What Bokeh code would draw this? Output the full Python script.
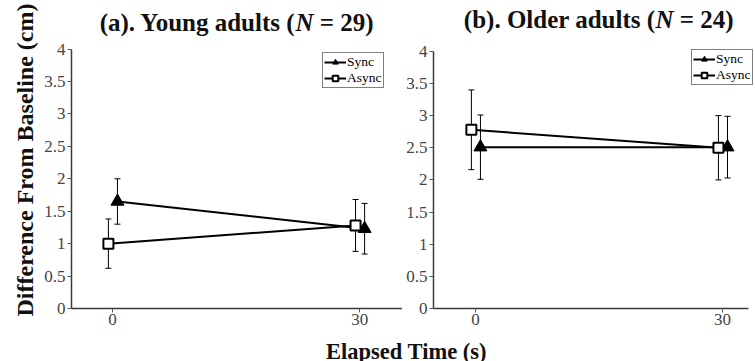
from bokeh.plotting import figure
from bokeh.models import (ColumnDataSource, Range1d, FixedTicker, Whisker, TeeHead,
                          Legend, LegendItem, Label)
from bokeh.layouts import row, column
from bokeh.transform import dodge
from bokeh.embed import file_html
from bokeh.resources import INLINE

# ---------------- data ----------------
time = [0, 30]
x_ticks = [0, 30]
y_ticks = [0, 0.5, 1, 1.5, 2, 2.5, 3, 3.5, 4]
y_tick_labels = ["0", "0.5", "1", "1.5", "2", "2.5", "3", "3.5", "4"]

young_sync = [1.65, 1.23]
young_sync_err = [0.35, 0.39]
young_async = [1.00, 1.28]
young_async_err = [0.38, 0.40]

older_sync = [2.51, 2.51]
older_sync_err = [0.50, 0.48]
older_async = [2.78, 2.50]
older_async_err = [0.62, 0.50]

series_names = ["Sync", "Async"]
titles = [("(a). Young adults (", "N", "\u00a0= 29)"), ("(b). Older adults (", "N", "\u00a0= 24)")]
y_label = "Difference From Baseline (cm)"
x_label = "Elapsed Time (s)"

SERIF = "Liberation Serif"
SYNC_DODGE = 0.6
ASYNC_DODGE = -0.5


def make_src(means, errs):
    return ColumnDataSource(dict(
        time=time, mean=means,
        upper=[m + e for m, e in zip(means, errs)],
        lower=[m - e for m, e in zip(means, errs)],
    ))


def panel(width, height, x_start, x_end, x_bounds, y_end, b_left, b_right, b_bottom,
          sync, sync_err, asyn, asyn_err, title_parts, title_x, title_y, legend_xy,
          side_title=None):
    if side_title is not None:
        kw = dict(title=side_title, title_location="left")
    else:
        kw = dict(title=None)
    p = figure(width=width, height=height, output_backend="svg", toolbar_location=None,
               x_range=Range1d(x_start, x_end), y_range=Range1d(0, y_end),
               min_border_left=b_left, min_border_right=b_right,
               min_border_top=0, min_border_bottom=b_bottom, **kw)
    if side_title is not None:
        p.title.text_font = SERIF
        p.title.text_font_size = "24px"
        p.title.text_font_style = "bold"
        p.title.text_color = "#111111"
        p.title.align = "left"
        p.title.offset = -8
        p.title.standoff = 7
    p.outline_line_color = None
    p.grid.visible = False
    p.background_fill_color = "white"
    p.border_fill_color = "white"

    for ax in (p.xaxis[0], p.yaxis[0]):
        ax.axis_line_color = "#3a3a3a"
        ax.axis_line_width = 1.5
        ax.major_tick_line_color = "#555555"
        ax.major_tick_in = 0
        ax.major_tick_out = 4
        ax.minor_tick_line_color = None
        ax.major_label_text_font = SERIF
        ax.major_label_text_font_size = "17px"
        ax.major_label_text_color = "#444444"
    p.xaxis.ticker = FixedTicker(ticks=x_ticks)
    p.xaxis.bounds = x_bounds
    p.xaxis.major_label_standoff = 1
    p.yaxis.ticker = FixedTicker(ticks=y_ticks)
    p.yaxis.bounds = (y_ticks[0], y_ticks[-1])
    p.yaxis.major_label_overrides = {t: l for t, l in zip(y_ticks, y_tick_labels)}
    p.yaxis.major_label_standoff = 2

    s_src = make_src(sync, sync_err)
    a_src = make_src(asyn, asyn_err)
    sx = dodge("time", SYNC_DODGE, range=p.x_range)
    ax_ = dodge("time", ASYNC_DODGE, range=p.x_range)

    for src, xx in ((s_src, sx), (a_src, ax_)):
        p.add_layout(Whisker(source=src, base=xx, upper="upper", lower="lower",
                             line_color="black", line_width=1,
                             upper_head=TeeHead(size=6, line_color="black", line_width=1),
                             lower_head=TeeHead(size=6, line_color="black", line_width=1)))

    sl = p.line(x=sx, y="mean", source=s_src, line_color="black", line_width=2)
    al = p.line(x=ax_, y="mean", source=a_src, line_color="black", line_width=2)
    sm = p.scatter(x=sx, y="mean", source=s_src, marker="triangle", size=13,
                   fill_color="black", line_color="black", line_width=1)
    am = p.scatter(x=ax_, y="mean", source=a_src, marker="square", size=10,
                   fill_color="white", line_color="black", line_width=2)

    leg = Legend(items=[LegendItem(label=series_names[0], renderers=[sl, sm]),
                        LegendItem(label=series_names[1], renderers=[al, am])],
                 location=legend_xy, orientation="vertical",
                 label_text_font=SERIF, label_text_font_size="13.5px",
                 label_text_color="black", label_standoff=1,
                 glyph_width=22, glyph_height=14, label_height=14,
                 spacing=0, padding=1, margin=0,
                 border_line_color="black", border_line_width=1,
                 background_fill_color="white", background_fill_alpha=1)
    p.add_layout(leg, "center")

    t1, t2, t3 = title_parts
    common = dict(x_units="screen", y_units="screen", text_font=SERIF,
                  text_font_size="25px", text_font_style="bold", text_color="#111111",
                  text_baseline="middle")
    p.add_layout(Label(x=title_x, y=title_y, text=t1, text_align="right", **common))
    c2 = dict(common)
    c2["text_font_style"] = "bold italic"
    p.add_layout(Label(x=title_x, y=title_y, text=t2, text_align="left", **c2))
    p.add_layout(Label(x=title_x + 18, y=title_y, text=t3, text_align="left", **common))
    return p


ROW_H = 337

# left: frame x 71..402, y 0..308 (value 4 at y~48)
p1 = panel(402, ROW_H, -4.98, 35.2, (-4.98, 35.2), 4.748, 71, 0, ROW_H - 308,
           young_sync, young_sync_err, young_async, young_async_err,
           titles[0], 224, 286, (251, 220), side_title=y_label)
# right: frame x 433..755, y 0..312 (value 4 at y~51.5); axis line stops at ~748
p2 = panel(353, ROW_H, -5.1, 34.0, (-5.1, 33.16), 4.791, 31, 0, ROW_H - 312,
           older_sync, older_sync_err, older_async, older_async_err,
           titles[1], 222, 289, (258, 223))

# shared x label row
X_H = 361 - ROW_H
p3 = figure(width=755, height=X_H, output_backend="svg", toolbar_location=None,
            title=None, x_range=Range1d(0, 755), y_range=Range1d(0, X_H),
            x_axis_type=None, y_axis_type=None, min_border=0)
p3.outline_line_color = None
p3.grid.visible = False
p3.add_layout(Label(x=406, y=10.5, text=x_label, text_align="center",
                    text_baseline="middle", text_font=SERIF,
                    text_font_size="22.5px", text_font_style="bold", text_color="#111111"))

layout = column(row(p1, p2), p3)
open("out.html", "w").write(file_html(layout, INLINE))
